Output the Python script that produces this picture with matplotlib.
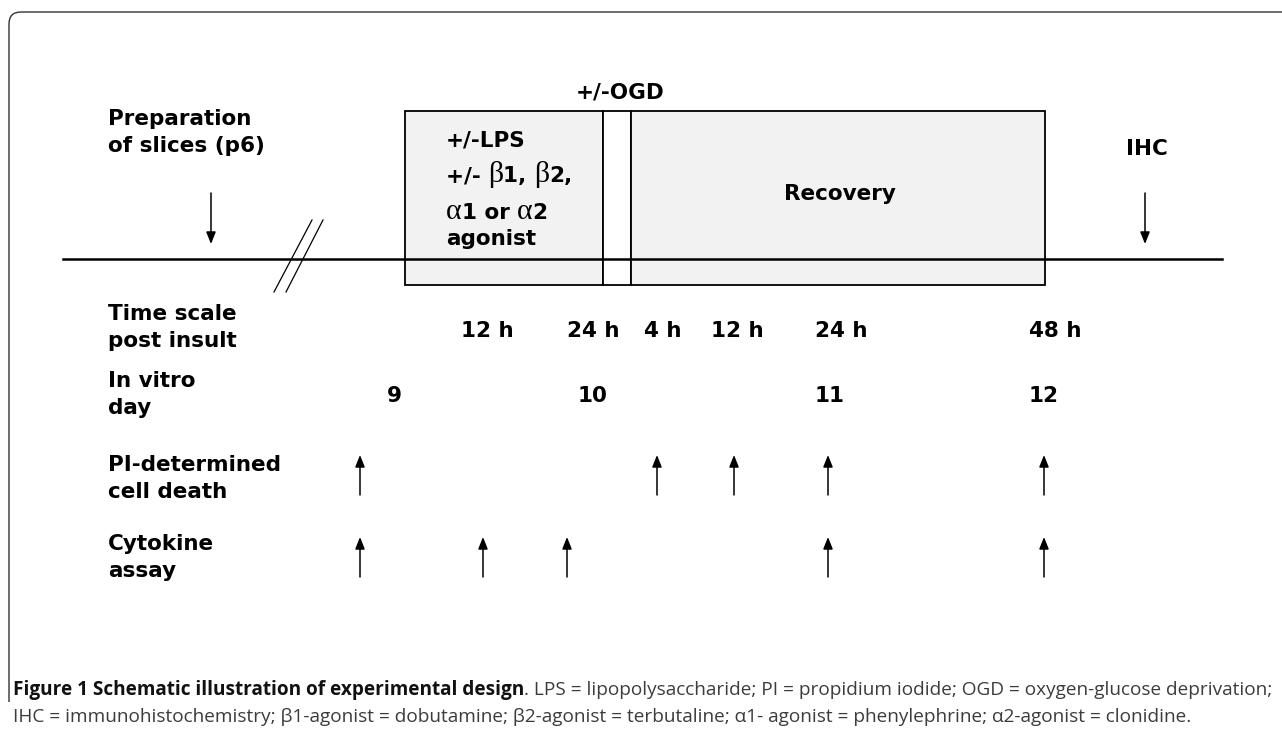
import matplotlib
matplotlib.use("Agg")
import matplotlib.pyplot as plt
from matplotlib.patches import Rectangle
from matplotlib.path import Path
from matplotlib.patches import PathPatch

# schematic x positions (pixels along the time line)
phase_names = ["LPS", "OGD", "Recovery"]
phase_start = [405, 603, 631]
phase_end = [603, 631, 1045]

time_labels = ["12 h", "24 h", "4 h", "12 h", "24 h", "48 h"]
time_x = [487, 593, 663, 737, 841, 1055]

day_labels = ["9", "10", "11", "12"]
day_x = [394, 593, 830, 1044]

pi_x = [360, 657, 734, 828, 1044]
cytokine_x = [360, 483, 567, 828, 1044]

prep_x = 211
ihc_x = 1145

row_labels = [("Time scale", "post insult"), ("In vitro", "day"),
              ("PI-determined", "cell death"), ("Cytokine", "assay")]
row_base = [320, 387, 471, 550]

caption_bold = "Figure 1 Schematic illustration of experimental design"
caption_rest1 = ". LPS = lipopolysaccharide; PI = propidium iodide; OGD = oxygen-glucose deprivation;"
caption_line2 = ("IHC = immunohistochemistry; \u03b21-agonist = dobutamine; \u03b22-agonist = terbutaline; "
                 "\u03b11- agonist = phenylephrine; \u03b12-agonist = clonidine.")

W, H = 1282, 732
fig = plt.figure(figsize=(W / 100, H / 100), dpi=100)
ax = fig.add_axes([0, 0, 1, 1])
ax.set_xlim(0, W)
ax.set_ylim(H, 0)
ax.axis("off")
renderer = fig.canvas.get_renderer()

bold = dict(family="DejaVu Sans", fontweight="bold", fontsize=15.5, color="black")
greek = dict(family="Liberation Serif", fontsize=21.5, color="black")


def runs(x, y, parts):
    for s, props in parts:
        t = ax.text(x, y, s, va="baseline", ha="left", **props)
        x += t.get_window_extent(renderer).width
    return x


# outer frame with rounded corner
r = 12
frame = Path([(9, 702), (9, 12 + r), (9, 12), (9 + r, 12), (W + 5, 12)],
             [Path.MOVETO, Path.LINETO, Path.CURVE3, Path.CURVE3, Path.LINETO])
ax.add_patch(PathPatch(frame, fill=False, lw=1.0, edgecolor="#333333"))

# phase boxes
fills = ["#f2f2f2", "white", "#f2f2f2"]
for s, e, fc in zip(phase_start, phase_end, fills):
    ax.add_patch(Rectangle((s, 111), e - s, 285 - 111, facecolor=fc,
                           edgecolor="black", lw=1.3, zorder=1))

# time line
ax.plot([63, 1222], [259, 259], color="black", lw=1.8, zorder=2)
ax.plot([274, 312], [292, 220], color="black", lw=0.9)
ax.plot([286, 323], [292, 220], color="black", lw=0.9)

arrow = dict(arrowstyle="-|>,head_length=0.55,head_width=0.22", mutation_scale=13,
             color="black", lw=1.1, shrinkA=0, shrinkB=0)
for x in [prep_x, ihc_x]:
    ax.annotate("", xy=(x, 244), xytext=(x, 193), arrowprops=arrow)
for x in pi_x:
    ax.annotate("", xy=(x, 455), xytext=(x, 495), arrowprops=arrow)
for x in cytokine_x:
    ax.annotate("", xy=(x, 537), xytext=(x, 577), arrowprops=arrow)

# texts
ax.text(108, 125, "Preparation", va="baseline", **bold)
ax.text(108, 152, "of slices (p6)", va="baseline", **bold)
ax.text(ihc_x + 2, 155, "IHC", va="baseline", ha="center", **bold)
ax.text(620, 98, "+/-" + phase_names[1], va="baseline", ha="center", **bold)
ax.text((phase_start[2] + phase_end[2]) / 2 + 2, 200, phase_names[2],
        va="baseline", ha="center", **bold)

runs(446, 146, [("+/-" + phase_names[0], bold)])
runs(446, 182, [("+/- ", bold), ("\u03b2", greek), ("1, ", bold), ("\u03b2", greek), ("2,", bold)])
runs(446, 219, [("\u03b1", greek), ("1 or ", bold), ("\u03b1", greek), ("2", bold)])
runs(446, 245, [("agonist", bold)])

for (l1, l2), yb in zip(row_labels, row_base):
    ax.text(108, yb, l1, va="baseline", **bold)
    ax.text(108, yb + 27, l2, va="baseline", **bold)

for lab, x in zip(time_labels, time_x):
    ax.text(x, 337, lab, va="baseline", ha="center", **bold)
for lab, x in zip(day_labels, day_x):
    ax.text(x, 402, lab, va="baseline", ha="center", **bold)

# caption
cap_b = dict(family=["Open Sans", "DejaVu Sans"], fontweight="bold", fontsize=10, color="#111111")
cap_r = dict(family=["Open Sans", "DejaVu Sans"], fontsize=10, color="#3c3c3c")
t1 = ax.text(0, 0, caption_bold, **cap_b)
t2 = ax.text(0, 0, caption_rest1, **cap_r)
w = t1.get_window_extent(renderer).width + t2.get_window_extent(renderer).width
t1.remove()
t2.remove()
size = 10 * (1278 - 13) / w
cap_b["fontsize"] = size
cap_r["fontsize"] = size
runs(13, 695, [(caption_bold, cap_b), (caption_rest1, cap_r)])
runs(13, 722, [(caption_line2, cap_r)])

fig.savefig("out.png", dpi=100)
